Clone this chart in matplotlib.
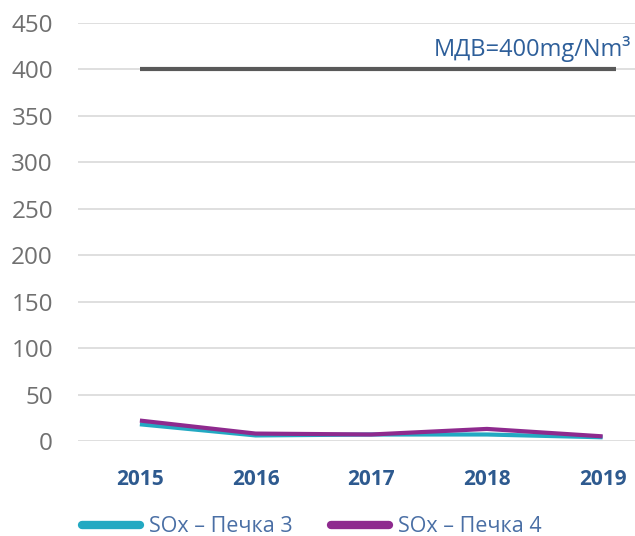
import matplotlib
matplotlib.use("Agg")
import matplotlib.pyplot as plt
from matplotlib.lines import Line2D

years = ["2015", "2016", "2017", "2018", "2019"]
pecka3 = [18, 6, 7, 7, 4]
pecka4 = [22, 8, 7, 13, 5]
limit_value = 400
limit_label = "МДВ=400mg/Nm³"
yticks = [0, 50, 100, 150, 200, 250, 300, 350, 400, 450]
series_labels = ["SOx – Печка 3", "SOx – Печка 4"]

plt.rcParams['font.family'] = ['Open Sans', 'DejaVu Sans']

W, H = 635, 536
fig = plt.figure(figsize=(W/100, H/100), dpi=100)
ax = fig.add_axes([78/W, 1-441/H, (635-78)/W, (441-23)/H])

x = list(range(len(years)))
ax.set_xlim(-0.535, 4.28)
ax.set_ylim(0, 450)

for t in yticks:
    ax.axhline(t, color="#d9d9d9", lw=1.2, zorder=0)

ax.hlines(limit_value, 0, 4.12, color="#595959", lw=3, zorder=2)
c3 = "#23a9c2"
c4 = "#8e2a8e"
ax.plot(x, pecka3, color=c3, lw=3, zorder=3, solid_capstyle="butt")
ax.plot(x, pecka4, color=c4, lw=3, zorder=4, solid_capstyle="butt")

ax.text(4.25, 408, limit_label, color="#2e5f9a", fontsize=17, ha="right", va="bottom")

for s in ax.spines.values():
    s.set_visible(False)
ax.set_yticks(yticks)
ax.set_yticklabels([str(t) for t in yticks], color="#707070", fontsize=17.5)
ax.tick_params(axis="y", length=0, pad=18)
ax.set_xticks(x)
ax.set_xticklabels(years, color="#2e5a8f", fontsize=15, fontweight="bold")
ax.tick_params(axis="x", length=0, pad=20)

handles = [Line2D([0], [0], color=c3, lw=6, solid_capstyle="round"),
           Line2D([0], [0], color=c4, lw=6, solid_capstyle="round")]
leg = fig.legend(handles, series_labels, loc="center", bbox_to_anchor=(0.491, 1-527/H),
                 ncol=2, frameon=False, fontsize=15.5, handlelength=2.7, columnspacing=1.75,
                 handletextpad=0.45)
for t in leg.get_texts():
    t.set_color("#4a6fa5")

fig.savefig("out.png", dpi=100)
